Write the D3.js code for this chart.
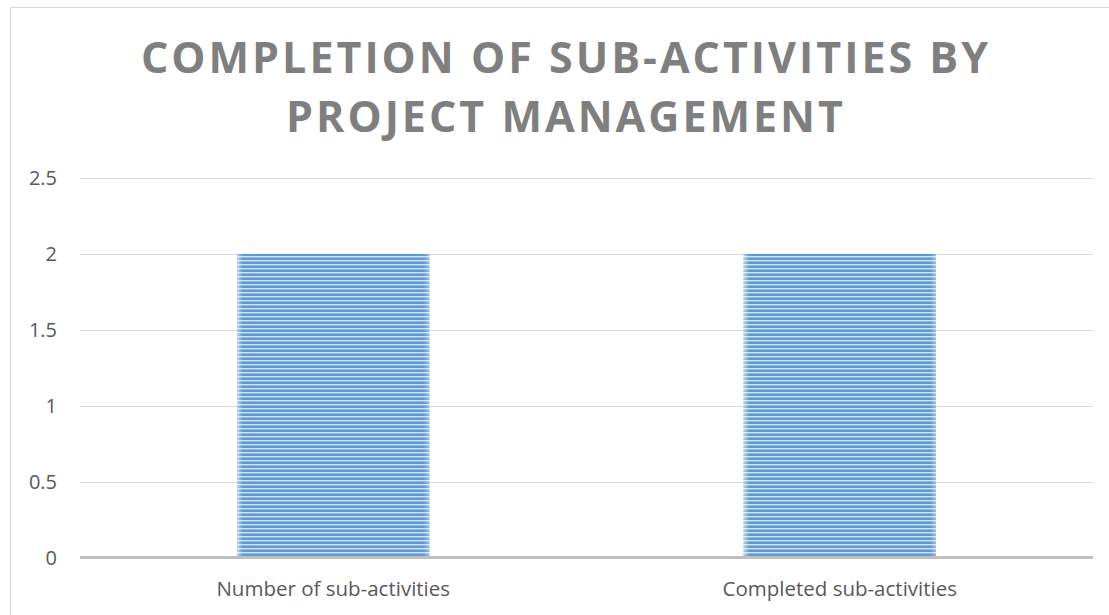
<!DOCTYPE html>
<html>
<head>
<meta charset="utf-8">
<style>
  body { margin: 0; background: #fff; }
  text { font-family: "Open Sans", sans-serif; }
</style>
</head>
<body>
<svg width="1109" height="615" id="chart"></svg>

<script src="https://d3js.org/d3.v7.min.js"></script>
<script>
var titleLines = ["COMPLETION OF SUB-ACTIVITIES BY", "PROJECT MANAGEMENT"];
var categories = ["Number of sub-activities", "Completed sub-activities"];
var values = [2, 2];
var yTicks = [0, 0.5, 1, 1.5, 2, 2.5];

var svg = d3.select("#chart");

// chart frame (only top and left edges fall inside the picture)
svg.append("rect")
    .attr("x", 10.5).attr("y", 7.5)
    .attr("width", 1200).attr("height", 700)
    .attr("fill", "none")
    .attr("stroke", "#d9d9d9");

var plotLeft = 80, plotRight = 1093, plotTop = 178, plotBottom = 557.5;

var x = d3.scaleBand().domain(categories).range([plotLeft, plotRight]).paddingInner(0.62).paddingOuter(0.31);
var y = d3.scaleLinear().domain([0, 2.5]).range([plotBottom, plotTop]);

// striped fill
var defs = svg.append("defs");
var pat = defs.append("pattern")
    .attr("id", "stripes")
    .attr("patternUnits", "userSpaceOnUse")
    .attr("width", 8).attr("height", 4);
pat.append("rect").attr("width", 8).attr("height", 4).attr("fill", "#5f9ad6");
pat.append("rect").attr("y", 0).attr("width", 8).attr("height", 1.3).attr("fill", "#d3e4f5");
pat.append("rect").attr("y", 1.3).attr("width", 8).attr("height", 0.7).attr("fill", "#8fbbe6");

var grad = defs.append("linearGradient").attr("id", "edges");
grad.append("stop").attr("offset", "0%").attr("stop-color", "#fff").attr("stop-opacity", 0.55);
grad.append("stop").attr("offset", "3%").attr("stop-color", "#fff").attr("stop-opacity", 0);
grad.append("stop").attr("offset", "97%").attr("stop-color", "#fff").attr("stop-opacity", 0);
grad.append("stop").attr("offset", "100%").attr("stop-color", "#fff").attr("stop-opacity", 0.35);

// gridlines
svg.append("g").selectAll("line")
    .data(yTicks.filter(function(d) { return d > 0; }))
    .enter().append("line")
    .attr("x1", plotLeft).attr("x2", plotRight)
    .attr("y1", function(d) { return Math.round(y(d)) + 0.5; })
    .attr("y2", function(d) { return Math.round(y(d)) + 0.5; })
    .attr("stroke", "#d9d9d9");

// tick labels
svg.append("g").selectAll("text")
    .data(yTicks)
    .enter().append("text")
    .attr("x", 57)
    .attr("y", function(d) { return y(d) + 7; })
    .attr("text-anchor", "end")
    .attr("fill", "#595959")
    .attr("font-size", 20)
    .text(function(d) { return d; });

// bars
var bars = svg.append("g").selectAll("g")
    .data(values)
    .enter().append("g");
bars.append("rect")
    .attr("x", function(d, i) { return x(categories[i]); })
    .attr("y", function(d) { return y(d); })
    .attr("width", x.bandwidth())
    .attr("height", function(d) { return y(0) - y(d); })
    .attr("fill", "url(#stripes)");
bars.append("rect")
    .attr("x", function(d, i) { return x(categories[i]); })
    .attr("y", function(d) { return y(d); })
    .attr("width", x.bandwidth())
    .attr("height", function(d) { return y(0) - y(d); })
    .attr("fill", "url(#edges)");

// axis line
svg.append("line")
    .attr("x1", plotLeft).attr("x2", plotRight)
    .attr("y1", plotBottom).attr("y2", plotBottom)
    .attr("stroke", "#bfbfbf")
    .attr("stroke-width", 3);

// category labels
svg.append("g").selectAll("text")
    .data(categories)
    .enter().append("text")
    .attr("x", function(d) { return x(d) + x.bandwidth() / 2; })
    .attr("y", 596)
    .attr("text-anchor", "middle")
    .attr("fill", "#595959")
    .attr("font-size", 20.5)
    .text(function(d) { return d; });

// title
svg.append("g").selectAll("text")
    .data(titleLines)
    .enter().append("text")
    .attr("x", 566)
    .attr("y", function(d, i) { return 73 + i * 59; })
    .attr("text-anchor", "middle")
    .attr("fill", "#7f7f7f")
    .attr("font-size", 43)
    .attr("font-weight", "bold")
    .attr("letter-spacing", 3)
    .text(function(d) { return d; });
</script>
</body>
</html>
